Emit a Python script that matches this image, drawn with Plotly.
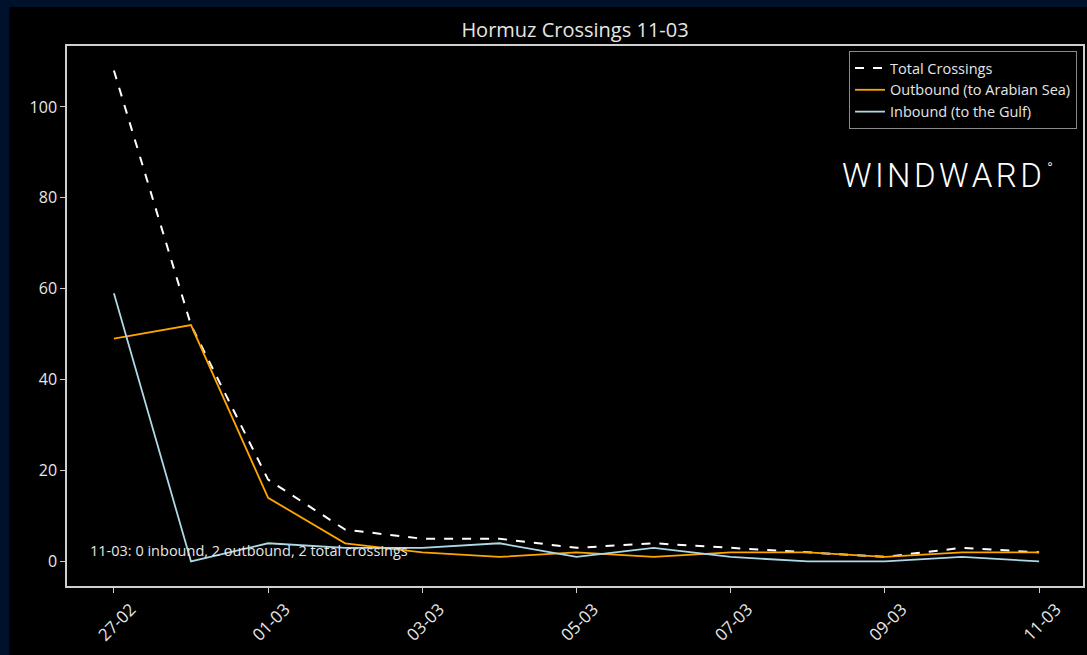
import plotly.graph_objects as go

dates = ["2026-02-27", "2026-02-28", "2026-03-01", "2026-03-02", "2026-03-03",
         "2026-03-04", "2026-03-05", "2026-03-06", "2026-03-07", "2026-03-08",
         "2026-03-09", "2026-03-10", "2026-03-11"]
total = [108, 52, 18, 7, 5, 5, 3, 4, 3, 2, 1, 3, 2]
outbound = [49, 52, 14, 4, 2, 1, 2, 1, 2, 2, 1, 2, 2]
inbound = [59, 0, 4, 3, 3, 4, 1, 3, 1, 0, 0, 1, 0]
tick_dates = ["2026-02-27", "2026-03-01", "2026-03-03", "2026-03-05",
              "2026-03-07", "2026-03-09", "2026-03-11"]
tick_labels = ["27-02", "01-03", "03-03", "05-03", "07-03", "09-03", "11-03"]
y_ticks = [0, 20, 40, 60, 80, 100]

title = "Hormuz Crossings 11-03"
note = "11-03: 0 inbound, 2 outbound, 2 total crossings"

W, H = 1087, 655
L, R, T, B = 67, 2, 46, 69
pw, ph = W - L - R, H - T - B

FONT = "Open Sans"
TXT = "#e6e6e6"
FRAME = "#cfcfcf"
NAVY = "#00122b"

fig = go.Figure()
fig.add_trace(go.Scatter(x=dates, y=total, mode="lines", name="Total Crossings",
                         line=dict(color="#ffffff", width=2, dash="dash")))
fig.add_trace(go.Scatter(x=dates, y=outbound, mode="lines", name="Outbound (to Arabian Sea)",
                         line=dict(color="#FFA500", width=1.8)))
fig.add_trace(go.Scatter(x=dates, y=inbound, mode="lines", name="Inbound (to the Gulf)",
                         line=dict(color="#ADD8E6", width=1.8)))

# black panel inside the navy border
fig.add_shape(type="rect", xref="paper", yref="paper", layer="below",
              x0=(9 - L) / pw, x1=(W + 5 - L) / pw,
              y0=-(B + 5) / ph, y1=(H - B - 7) / ph,
              fillcolor="#000000", line=dict(width=0))

fig.add_annotation(xref="paper", yref="paper", x=(88 - L) / pw, y=(H - B - 550) / ph,
                   text=note, showarrow=False, xanchor="left", yanchor="middle",
                   font=dict(family=FONT, size=14.5, color=TXT))

fig.add_annotation(xref="paper", yref="paper", x=(1046 - L) / pw, y=(H - B - 175) / ph,
                   text="W\u200aI\u200aN\u200aD\u200aW\u200aA\u200aR\u200aD",
                   showarrow=False, xanchor="right", yanchor="middle",
                   font=dict(family="Roboto", size=33, color="#ffffff", weight=300))
fig.add_annotation(xref="paper", yref="paper", x=(1047 - L) / pw, y=(H - B - 168) / ph,
                   text="°", showarrow=False, xanchor="left", yanchor="middle",
                   font=dict(family="Roboto", size=16, color="#ffffff", weight=300))

fig.update_layout(
    width=W, height=H,
    margin=dict(l=L, r=R, t=T, b=B),
    paper_bgcolor=NAVY,
    plot_bgcolor="#000000",
    title=dict(text=title, x=0.5, xref="paper", xanchor="center",
               y=1 - 30 / H, yref="container", yanchor="middle",
               font=dict(family=FONT, size=20, color=TXT)),
    showlegend=True,
    legend=dict(x=(1079 - L) / pw, y=(H - B - 51) / ph, xanchor="right", yanchor="top",
                bgcolor="#000000", bordercolor="#8a8a8a", borderwidth=1,
                font=dict(family=FONT, size=14.5, color=TXT),
                itemwidth=30, tracegroupgap=0),
    xaxis=dict(type="date",
               range=["2026-02-26 09:24", "2026-03-11 13:40"],
               tickmode="array", tickvals=tick_dates, ticktext=tick_labels,
               tickangle=-45, ticks="outside", ticklen=5, tickcolor=FRAME,
               tickfont=dict(family=FONT, size=17, color=TXT),
               ticklabelshift=17,
               showgrid=False, zeroline=False,
               showline=True, mirror=True, linecolor=FRAME, linewidth=1.5),
    yaxis=dict(range=[-5.4, 113.4], tickmode="array", tickvals=y_ticks,
               ticks="outside", ticklen=5, tickcolor=FRAME,
               tickfont=dict(family=FONT, size=16, color=TXT),
               showgrid=False, zeroline=False,
               showline=True, mirror=True, linecolor=FRAME, linewidth=1.5),
)

fig.write_html("out.html", config={"displayModeBar": False},
               post_script="document.body.style.margin='0';document.body.style.background='#00122b';")
